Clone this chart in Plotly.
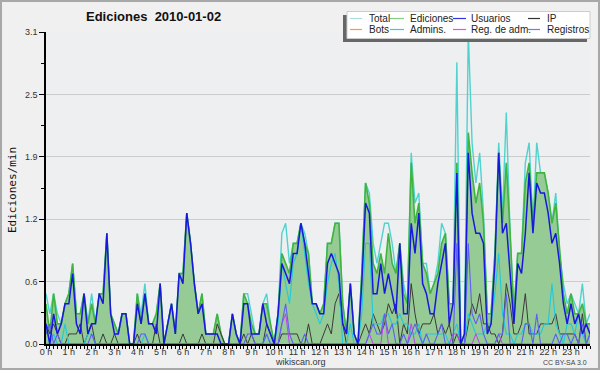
import plotly.graph_objects as go

# 10-minute buckets (index 0 = 00:00, 143 = 23:50), values in edits/min
TIME_INDEX = list(range(144))

USUARIOS = [
    0.2, 0.0, 0.3, 0.1, 0.2, 0.4,
    0.4, 0.7, 0.2, 0.1, 0.5, 0.1,
    0.2, 0.2, 0.5, 0.4, 1.1, 0.3,
    0.1, 0.1, 0.3, 0.3, 0.0, 0.0,
    0.4, 0.2, 0.5, 0.2, 0.2, 0.1,
    0.6, 0.0, 0.2, 0.4, 0.1, 0.7,
    0.6, 1.3, 1.0, 0.6, 0.3, 0.4,
    0.1, 0.1, 0.1, 0.1, 0.0, 0.0,
    0.0, 0.3, 0.1, 0.0, 0.4, 0.4,
    0.1, 0.1, 0.1, 0.4, 0.2, 0.1,
    0.0, 0.3, 0.8, 0.7, 0.6, 0.9,
    0.9, 1.2, 1.0, 0.7, 0.4, 0.4,
    0.3, 0.3, 0.8, 0.9, 0.8, 0.7,
    0.2, 0.1, 0.6, 0.1, 0.0, 0.6,
    1.4, 1.3, 0.5, 0.5, 0.8, 0.5,
    0.7, 0.5, 0.3, 1.0, 0.3, 0.3,
    1.2, 0.9, 1.3, 0.6, 0.5, 0.3,
    0.3, 0.6, 0.8, 1.0, 0.2, 0.4,
    1.7, 0.0, 0.1, 1.9, 1.3, 1.1,
    1.1, 1.0, 0.1, 0.2, 0.8, 1.9,
    1.1, 1.2, 0.7, 0.2, 0.8, 0.7,
    1.1, 1.7, 1.1, 1.6, 1.5, 1.5,
    1.3, 1.0, 1.1, 0.8, 0.4, 0.2,
    0.4, 0.2, 0.3, 0.1, 0.2, 0.1,
]

IP = [
    0.2, 0.1, 0.2, 0.1, 0.0, 0.0,
    0.1, 0.1, 0.1, 0.2, 0.0, 0.1,
    0.2, 0.0, 0.0, 0.1, 0.0, 0.0,
    0.1, 0.0, 0.0, 0.0, 0.0, 0.0,
    0.1, 0.0, 0.0, 0.0, 0.0, 0.2,
    0.0, 0.0, 0.0, 0.0, 0.0, 0.0,
    0.1, 0.0, 0.0, 0.0, 0.0, 0.1,
    0.0, 0.0, 0.0, 0.2, 0.1, 0.0,
    0.0, 0.0, 0.0, 0.0, 0.1, 0.0,
    0.1, 0.0, 0.0, 0.0, 0.2, 0.1,
    0.0, 0.0, 0.1, 0.1, 0.1, 0.1,
    0.1, 0.0, 0.0, 0.2, 0.0, 0.0,
    0.0, 0.1, 0.2, 0.1, 0.4, 0.5,
    0.2, 0.0, 0.0, 0.0, 0.0, 0.1,
    0.2, 0.1, 0.3, 0.2, 0.1, 0.2,
    0.4, 0.3, 0.4, 0.0, 0.2, 0.1,
    0.6, 0.3, 0.1, 0.2, 0.2, 0.2,
    0.3, 0.1, 0.2, 0.1, 0.2, 0.0,
    0.1, 0.0, 0.0, 0.2, 0.4, 0.3,
    0.5, 0.2, 0.2, 0.1, 0.1, 0.0,
    0.1, 0.6, 0.4, 0.1, 0.1, 0.2,
    0.5, 0.1, 0.1, 0.1, 0.2, 0.2,
    0.2, 0.2, 0.3, 0.1, 0.1, 0.1,
    0.1, 0.1, 0.0, 0.3, 0.0, 0.1,
]

EDICIONES = [
    0.4, 0.1, 0.5, 0.2, 0.2, 0.4,
    0.5, 0.8, 0.3, 0.3, 0.5, 0.2,
    0.4, 0.2, 0.5, 0.5, 1.1, 0.3,
    0.2, 0.1, 0.3, 0.3, 0.0, 0.0,
    0.5, 0.2, 0.5, 0.2, 0.2, 0.3,
    0.6, 0.0, 0.2, 0.4, 0.1, 0.7,
    0.7, 1.3, 1.0, 0.6, 0.3, 0.5,
    0.1, 0.1, 0.1, 0.3, 0.1, 0.0,
    0.0, 0.3, 0.1, 0.0, 0.5, 0.4,
    0.2, 0.1, 0.1, 0.4, 0.4, 0.2,
    0.0, 0.3, 0.9, 0.8, 0.7, 1.0,
    1.0, 1.2, 1.0, 0.9, 0.4, 0.4,
    0.3, 0.4, 1.0, 1.0, 1.2, 1.2,
    0.4, 0.1, 0.6, 0.1, 0.0, 0.7,
    1.6, 1.4, 0.8, 0.7, 0.9, 0.7,
    1.1, 0.8, 0.7, 1.0, 0.5, 0.4,
    1.8, 1.2, 1.4, 0.8, 0.7, 0.5,
    0.6, 0.7, 1.0, 1.1, 0.4, 0.4,
    1.8, 0.0, 0.1, 2.1, 1.7, 1.4,
    1.6, 1.2, 0.3, 0.3, 0.9, 1.9,
    1.2, 1.8, 1.1, 0.3, 0.9, 0.9,
    1.6, 1.8, 1.2, 1.7, 1.7, 1.7,
    1.5, 1.2, 1.4, 0.9, 0.5, 0.3,
    0.5, 0.3, 0.3, 0.4, 0.2, 0.2,
]

REGISTROS = [
    0.1, 0.2, 0.0, 0.1, 0.0, 0.0,
    0.0, 0.0, 0.0, 0.0, 0.0, 0.0,
    0.1, 0.0, 0.0, 0.0, 0.0, 0.0,
    0.0, 0.0, 0.0, 0.0, 0.0, 0.0,
    0.0, 0.1, 0.1, 0.0, 0.0, 0.0,
    0.0, 0.0, 0.0, 0.0, 0.0, 0.0,
    0.0, 0.0, 0.0, 0.0, 0.0, 0.0,
    0.0, 0.0, 0.0, 0.0, 0.0, 0.0,
    0.0, 0.0, 0.0, 0.0, 0.0, 0.1,
    0.1, 0.0, 0.0, 0.0, 0.1, 0.0,
    0.0, 0.0, 0.2, 0.4, 0.1, 0.0,
    0.0, 0.0, 0.1, 0.0, 0.0, 0.0,
    0.0, 0.0, 0.0, 0.0, 0.0, 0.0,
    0.0, 0.0, 0.0, 0.0, 0.0, 0.0,
    0.0, 0.1, 0.2, 0.1, 0.1, 0.3,
    0.1, 0.2, 0.0, 0.0, 0.1, 0.0,
    0.1, 0.2, 0.1, 0.0, 0.1, 0.0,
    0.0, 0.1, 0.2, 0.0, 0.0, 0.0,
    1.0, 0.0, 0.0, 1.0, 0.3, 0.2,
    0.3, 0.1, 0.0, 0.0, 0.0, 0.1,
    0.1, 0.5, 0.0, 0.0, 0.0, 0.0,
    0.2, 0.2, 0.0, 0.3, 0.0, 0.0,
    0.0, 0.0, 0.1, 0.0, 0.1, 0.1,
    0.0, 0.1, 0.0, 0.2, 0.0, 0.1,
]

TOTAL = [
    0.5, 0.3, 0.5, 0.3, 0.2, 0.4,
    0.5, 0.8, 0.3, 0.3, 0.5, 0.2,
    0.5, 0.2, 0.5, 0.5, 1.1, 0.3,
    0.2, 0.1, 0.3, 0.3, 0.0, 0.0,
    0.5, 0.3, 0.6, 0.2, 0.2, 0.3,
    0.6, 0.0, 0.2, 0.4, 0.1, 0.7,
    0.7, 1.3, 1.0, 0.6, 0.3, 0.5,
    0.1, 0.1, 0.1, 0.3, 0.1, 0.0,
    0.0, 0.3, 0.1, 0.0, 0.5, 0.5,
    0.3, 0.1, 0.1, 0.4, 0.5, 0.2,
    0.0, 0.3, 1.1, 1.2, 0.8, 1.0,
    1.0, 1.2, 1.1, 0.9, 0.4, 0.4,
    0.3, 0.4, 1.0, 1.0, 1.2, 1.2,
    0.4, 0.1, 0.6, 0.1, 0.0, 0.7,
    1.6, 1.5, 1.0, 0.8, 1.0, 1.2,
    1.2, 1.0, 0.7, 1.0, 0.6, 0.4,
    1.9, 1.4, 1.5, 0.8, 0.8, 0.5,
    0.6, 0.8, 1.2, 1.1, 0.4, 0.4,
    2.8, 0.0, 0.1, 3.1, 2.0, 1.6,
    1.9, 1.3, 0.3, 0.3, 0.9, 2.0,
    1.3, 2.3, 1.1, 0.3, 0.9, 0.9,
    1.8, 2.0, 1.2, 2.0, 1.7, 1.7,
    1.5, 1.2, 1.5, 0.9, 0.6, 0.4,
    0.5, 0.4, 0.3, 0.6, 0.2, 0.3,
]

ADMINS = [
    0.2, 0.0, 0.1, 0.0, 0.0, 0.2,
    0.0, 0.0, 0.0, 0.0, 0.0, 0.1,
    0.1, 0.0, 0.0, 0.0, 0.0, 0.0,
    0.0, 0.0, 0.0, 0.0, 0.0, 0.0,
    0.0, 0.0, 0.1, 0.0, 0.0, 0.0,
    0.0, 0.0, 0.0, 0.0, 0.0, 0.0,
    0.0, 0.0, 0.0, 0.0, 0.0, 0.0,
    0.0, 0.0, 0.0, 0.0, 0.0, 0.0,
    0.0, 0.0, 0.0, 0.0, 0.0, 0.0,
    0.0, 0.0, 0.0, 0.0, 0.1, 0.0,
    0.0, 0.2, 0.8, 0.6, 0.4, 0.8,
    0.9, 1.2, 0.9, 0.6, 0.4, 0.3,
    0.2, 0.3, 0.6, 0.8, 0.9, 0.6,
    0.0, 0.0, 0.2, 0.0, 0.0, 0.3,
    1.0, 1.0, 0.2, 0.2, 0.2, 0.3,
    0.3, 0.2, 0.2, 0.3, 0.2, 0.2,
    0.1, 0.1, 0.2, 0.0, 0.1, 0.1,
    0.1, 0.1, 0.1, 0.1, 0.0, 0.1,
    0.2, 0.0, 0.0, 0.3, 0.2, 0.1,
    0.1, 0.1, 0.2, 0.2, 0.5, 0.9,
    0.3, 0.1, 0.1, 0.0, 0.1, 0.1,
    0.2, 0.2, 0.1, 0.1, 0.1, 0.2,
    0.2, 0.6, 0.2, 0.1, 0.0, 0.2,
    0.2, 0.1, 0.3, 0.1, 0.0, 0.1,
]

REG_ADM = [
    0.0, 0.0, 0.0, 0.0, 0.0, 0.0,
    0.0, 0.0, 0.0, 0.0, 0.0, 0.0,
    0.0, 0.0, 0.0, 0.0, 0.0, 0.0,
    0.0, 0.0, 0.0, 0.0, 0.0, 0.0,
    0.0, 0.0, 0.0, 0.0, 0.0, 0.0,
    0.0, 0.0, 0.0, 0.0, 0.0, 0.0,
    0.0, 0.0, 0.0, 0.0, 0.0, 0.0,
    0.0, 0.0, 0.0, 0.0, 0.0, 0.0,
    0.0, 0.0, 0.0, 0.0, 0.0, 0.0,
    0.0, 0.0, 0.0, 0.0, 0.0, 0.0,
    0.0, 0.0, 0.2, 0.3, 0.0, 0.0,
    0.0, 0.0, 0.0, 0.0, 0.0, 0.0,
    0.0, 0.0, 0.0, 0.0, 0.0, 0.0,
    0.0, 0.0, 0.0, 0.0, 0.0, 0.0,
    0.0, 0.1, 0.0, 0.0, 0.0, 0.3,
    0.0, 0.0, 0.0, 0.0, 0.0, 0.0,
    0.2, 0.0, 0.0, 0.0, 0.0, 0.0,
    0.0, 0.0, 0.0, 0.0, 0.0, 0.1,
    0.1, 0.0, 0.0, 0.0, 0.0, 0.1,
    0.0, 0.0, 0.0, 0.0, 0.0, 0.1,
    0.0, 0.0, 0.0, 0.0, 0.0, 0.0,
    0.0, 0.0, 0.0, 0.0, 0.0, 0.0,
    0.0, 0.0, 0.0, 0.0, 0.0, 0.0,
    0.0, 0.0, 0.0, 0.0, 0.0, 0.0,
]

BOTS = [0.0] * 144  # no bot edits on this day

HOUR_TICKS = [0, 6, 12, 18, 24, 30, 36, 42, 48, 54, 60, 66,
              72, 78, 84, 90, 96, 102, 108, 114, 120, 126, 132, 138]
HOUR_LABELS = ["0 h", "1 h", "2 h", "3 h", "4 h", "5 h", "6 h", "7 h",
               "8 h", "9 h", "10 h", "11 h", "12 h", "13 h", "14 h", "15 h",
               "16 h", "17 h", "18 h", "19 h", "20 h", "21 h", "22 h", "23 h"]
Y_TICKS = [0.0, 0.62, 1.24, 1.86, 2.48, 3.1]
Y_LABELS = ["0.0", "0.6", "1.2", "1.9", "2.5", "3.1"]
Y_MINOR = [0.31, 0.93, 1.55, 2.17, 2.79]

TITLE = "Ediciones\u00a0 2010-01-02"
LEGEND_ROWS = [
    [("Total", "#a8dede"), ("Ediciones", "#88cc88"), ("Usuarios", "#3333dd"), ("IP", "#333333")],
    [("Bots", "#ff9933"), ("Admins.", "#33ccdd"), ("Reg. de adm.", "#dd55ee"), ("Registros", "#7777ee")],
]

# ---- geometry helpers (pixel -> paper) ----
L, R, T, B = 46, 10, 32, 26
W, H = 600, 370
PW, PH = W - L - R, H - T - B


def px(x):
    return (x - L) / PW


def py(y):
    return (H - B - y) / PH


fig = go.Figure()


def line(y, color, width, name, **kw):
    fig.add_trace(go.Scatter(x=TIME_INDEX, y=y, mode="lines", name=name,
                             line=dict(color=color, width=width),
                             showlegend=False, hoverinfo="skip", **kw))


line(BOTS, "#ff9933", 1, "Bots")
line(TOTAL, "#4fd3cf", 1.4, "Total")
line(EDICIONES, "#3fb53f", 1.6, "Ediciones", fill="tozeroy", fillcolor="#96cb96")
line(IP, "#3a3a3a", 1, "IP")
line(ADMINS, "#22c8dd", 1.1, "Admins.")
line(REG_ADM, "#c040f0", 1, "Reg. de adm.")
line(REGISTROS, "#5f5ff2", 1.1, "Registros")
line(USUARIOS, "#1818dc", 1.5, "Usuarios")

tickfont = dict(family="Liberation Sans", size=9, color="#333333")

fig.update_layout(
    width=W, height=H,
    margin=dict(l=L, r=R, t=T, b=B, pad=0, autoexpand=False),
    paper_bgcolor="#f0f0f0",
    plot_bgcolor="#eeeff1",
    showlegend=False,
    xaxis=dict(
        range=[0, 143], tickmode="array", tickvals=HOUR_TICKS, ticktext=HOUR_LABELS,
        ticks="outside", ticklen=3, tickwidth=1, tickcolor="black",
        ticklabelstandoff=-5,
        showline=True, linecolor="black", linewidth=2,
        showgrid=False, zeroline=False, tickfont=tickfont, automargin=False,
        minor=dict(tickmode="linear", tick0=0, dtick=1, ticks="outside",
                   ticklen=3, tickwidth=1, tickcolor="black", showgrid=False),
    ),
    yaxis=dict(
        range=[0, 3.1], tickmode="array", tickvals=Y_TICKS, ticktext=Y_LABELS,
        ticks="outside", ticklen=5, tickwidth=1, tickcolor="black",
        showline=True, linecolor="black", linewidth=1.5,
        showgrid=True, gridcolor="#cccccc", gridwidth=1, zeroline=False,
        tickfont=tickfont, automargin=False,
        minor=dict(tickmode="array", tickvals=Y_MINOR, ticks="outside",
                   ticklen=3, tickwidth=1, tickcolor="black", showgrid=False),
    ),
)

shapes = []
annotations = []

# outer frame
shapes.append(dict(type="rect", xref="paper", yref="paper",
                   x0=px(1), x1=px(599), y0=py(369), y1=py(1),
                   line=dict(color="#a8a8a8", width=2), layer="above"))

# legend shadow and box
shapes.append(dict(type="rect", xref="paper", yref="paper",
                   x0=px(343), x1=px(587), y0=py(42), y1=py(15),
                   fillcolor="#666666", line=dict(width=0), layer="above"))
shapes.append(dict(type="rect", xref="paper", yref="paper",
                   x0=px(347), x1=px(590), y0=py(38.5), y1=py(11.5),
                   fillcolor="white", line=dict(color="#cccccc", width=1), layer="above"))

col_line = [(350, 362), (390, 404), (453, 466), (528, 540)]
col_text = [366.5, 408, 469, 545]
row_y = [18.5, 29.5]
for r, row in enumerate(LEGEND_ROWS):
    for c, (label, color) in enumerate(row):
        shapes.append(dict(type="line", xref="paper", yref="paper",
                           x0=px(col_line[c][0]), x1=px(col_line[c][1]),
                           y0=py(row_y[r]), y1=py(row_y[r]),
                           line=dict(color=color, width=1.2), layer="above"))
        annotations.append(dict(text=label, xref="paper", yref="paper",
                                x=px(col_text[c]), y=py(row_y[r]),
                                xanchor="left", yanchor="middle", showarrow=False,
                                font=dict(family="Liberation Sans", size=10, color="#222222")))

annotations.append(dict(text="<b>" + TITLE + "</b>", xref="paper", yref="paper",
                        x=px(153.5), y=py(16.5), xanchor="center", yanchor="middle",
                        showarrow=False,
                        font=dict(family="Liberation Sans", size=13, color="#111111")))
annotations.append(dict(text="Ediciones/min", xref="paper", yref="paper",
                        x=px(12), y=py(190), xanchor="center", yanchor="middle",
                        textangle=-90, showarrow=False,
                        font=dict(family="DejaVu Sans Mono", size=11, color="#111111")))
annotations.append(dict(text="wikiscan.org", xref="paper", yref="paper",
                        x=px(300), y=py(362), xanchor="center", yanchor="middle",
                        showarrow=False,
                        font=dict(family="Liberation Sans", size=9, color="#333333")))
annotations.append(dict(text="CC BY-SA 3.0", xref="paper", yref="paper",
                        x=px(589), y=py(362.5), xanchor="right", yanchor="middle",
                        showarrow=False,
                        font=dict(family="Liberation Sans", size=7, color="#444444")))

fig.update_layout(shapes=shapes, annotations=annotations)

fig.write_html("out.html", config={"displayModeBar": False},
               post_script="document.body.style.margin='0';document.body.style.overflow='hidden';")
